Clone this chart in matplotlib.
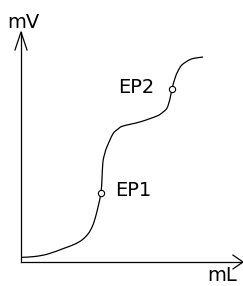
import numpy as np
import matplotlib
matplotlib.use("Agg")
import matplotlib.pyplot as plt
from matplotlib.path import Path
from matplotlib.patches import PathPatch

volume_ml = [0.00, 0.63, 1.22, 1.98, 2.43, 2.75, 3.02, 3.20, 3.33, 3.47,
             3.60, 3.65, 3.69, 3.78, 3.87, 4.14, 4.37, 4.59, 5.36, 6.13,
             6.40, 6.58, 6.71, 6.80, 6.94, 7.07, 7.25, 7.61, 7.88, 8.20]
potential_mv = [2.0, 2.4, 3.5, 6.1, 7.8, 9.6, 12.2, 15.2, 18.7, 23.9,
                30.0, 36.5, 43.5, 47.4, 50.0, 55.7, 57.8, 59.1, 60.9, 63.5,
                65.2, 67.0, 70.9, 75.2, 80.0, 83.0, 85.7, 88.0, 88.7, 89.1]

# Equivalence points
ep_names = ["EP1", "EP2"]
ep_ml = [3.60, 6.80]
ep_mv = [30.0, 75.2]

W, H = 243, 286
x0, y0 = 21, 262          # pixel of the origin
sx, sy = 22.2, 2.3        # pixels per unit

fig = plt.figure(figsize=(W / 100, H / 100), dpi=100)
ax = fig.add_axes([0, 0, 1, 1])
ax.set_xlim(-x0 / sx, (W - x0) / sx)
ax.set_ylim(-(H - y0) / sy, y0 / sy)
ax.axis("off")

font = dict(family="DejaVu Sans", fontsize=14)
lw = 0.9

# Axes with open arrow heads
ax.plot([0, 0], [0, 100], color="black", lw=lw)
ax.plot([-0.27, 0, 0.27], [92.2, 100, 92.2], color="black", lw=lw)
ax.plot([0, 10], [0, 0], color="black", lw=lw)
ax.plot([9.55, 10, 9.55], [3.0, 0, -3.0], color="black", lw=lw)
ax.text(0.11, 101.7, "mV", ha="center", va="baseline", **font)
ax.text(9.08, -8.4, "mL", ha="center", va="baseline", **font)

# Curve: smooth path through the read points (Catmull-Rom as cubic Bezier)
p = np.column_stack([volume_ml, potential_mv])
ext = np.vstack([p[0], p, p[-1]])
verts = [p[0]]
codes = [Path.MOVETO]
for i in range(1, len(ext) - 2):
    c1 = ext[i] + (ext[i + 1] - ext[i - 1]) / 6
    c2 = ext[i + 1] - (ext[i + 2] - ext[i]) / 6
    verts += [c1, c2, ext[i + 1]]
    codes += [Path.CURVE4] * 3
ax.add_patch(PathPatch(Path(verts, codes), fill=False, ec="black", lw=lw))
ax.plot(ep_ml, ep_mv, "o", ms=4.5, mfc="white", mec="black", mew=0.8)

label_pos = [(5.05, 28.7), (5.20, 73.5)]
for name, (tx, ty) in zip(ep_names, label_pos):
    ax.text(tx, ty, name, ha="center", va="baseline", **font)

fig.savefig("out.png", dpi=100)
